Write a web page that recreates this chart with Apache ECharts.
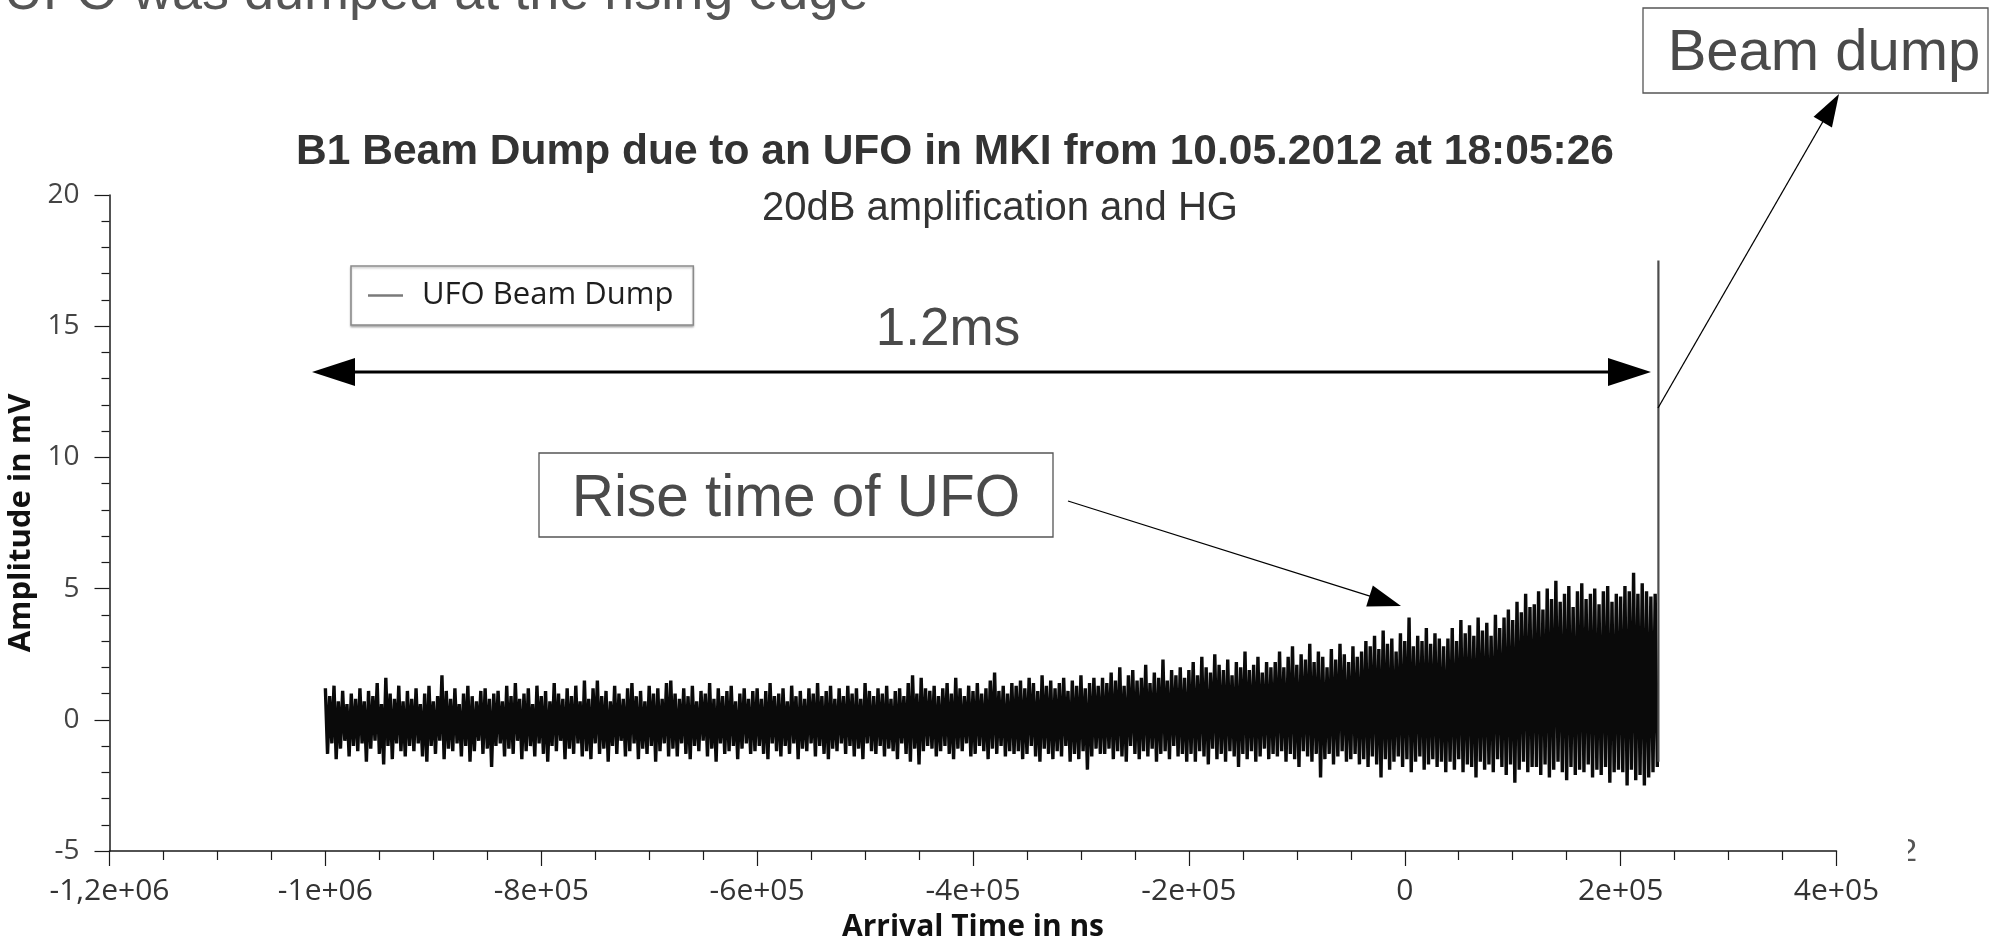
<!DOCTYPE html>
<html>
<head>
<meta charset="utf-8">
<title>B1 Beam Dump due to an UFO in MKI</title>
<script src="https://cdn.jsdelivr.net/npm/echarts@6/dist/echarts.min.js"></script>
<style>
  html, body { margin: 0; padding: 0; background: #ffffff; }
  #chart { width: 1997px; height: 938px; }
</style>
</head>
<body>
<div id="chart"></div>
<script>
// BLM trace: successive maxima / minima of the sampled signal (mV)
const traceStart = -1000000;   // ns, first sample
const traceStep = 2000;        // ns between successive extrema

const peaks = [
  // -1000k .. -920k
  1.2, 0.9, 1.3, 0.7, 1.1, 0.6, 1.0, 0.8, 1.2, 0.7,
  1.1, 0.9, 1.4, 0.6, 1.6, 1.0, 0.8, 1.3, 0.7, 1.1,
  // -920k .. -840k
  0.8, 1.2, 0.6, 1.0, 1.3, 0.7, 0.9, 1.7, 1.1, 0.8,
  1.2, 0.6, 1.0, 1.3, 0.9, 0.7, 1.1, 1.2, 0.8, 1.0,
  // -840k .. -760k
  1.1, 0.7, 1.3, 0.9, 1.4, 0.8, 1.0, 1.2, 0.6, 1.3,
  0.9, 1.1, 0.7, 1.4, 1.0, 0.8, 1.2, 0.9, 1.3, 0.7,
  // -760k .. -680k
  1.5, 0.8, 1.2, 1.5, 0.9, 1.1, 0.7, 1.3, 1.0, 0.8,
  1.2, 1.4, 0.9, 1.1, 0.7, 1.3, 1.0, 1.2, 0.8, 1.4,
  // -680k .. -600k
  1.5, 1.0, 0.8, 1.2, 0.9, 1.3, 0.7, 1.1, 1.0, 1.4,
  0.8, 1.2, 0.9, 1.1, 1.3, 0.7, 1.0, 1.2, 0.8, 1.1,
  // -600k .. -520k
  1.2, 0.8, 1.1, 1.4, 0.9, 1.0, 1.2, 0.7, 1.3, 0.9,
  1.1, 0.8, 1.2, 1.0, 1.4, 0.9, 1.1, 1.3, 0.8, 1.2,
  // -520k .. -440k
  0.9, 1.3, 1.0, 1.2, 0.8, 1.4, 1.1, 0.9, 1.2, 1.0,
  1.3, 0.8, 1.1, 1.2, 0.9, 1.4, 1.7, 1.0, 1.6, 1.2,
  // -440k .. -360k
  1.1, 1.3, 0.9, 1.2, 1.4, 1.0, 1.6, 1.2, 0.9, 1.3,
  1.1, 1.4, 1.0, 1.2, 1.5, 1.8, 1.1, 1.3, 1.0, 1.4,
  // -360k .. -280k
  1.3, 1.5, 1.2, 1.6, 1.4, 1.1, 1.7, 1.3, 1.5, 1.2,
  1.4, 1.6, 1.1, 1.5, 1.3, 1.7, 1.2, 1.4, 1.6, 1.3,
  // -280k .. -200k
  1.6, 1.4, 1.8, 1.5, 2.0, 1.3, 1.7, 1.9, 1.5, 1.6,
  2.1, 1.4, 1.8, 1.6, 2.3, 1.5, 1.9, 1.7, 2.0, 1.6,
  // -200k .. -120k
  1.9, 2.2, 1.7, 2.4, 2.0, 1.8, 2.5, 2.1, 1.9, 2.3,
  1.7, 2.2, 2.0, 2.6, 1.9, 2.1, 2.4, 1.8, 2.2, 2.0,
  // -120k .. -40k
  2.2, 2.6, 2.0, 2.4, 2.8, 2.1, 2.5, 2.3, 2.9, 2.2,
  2.6, 2.4, 2.0, 2.7, 2.3, 2.9, 2.5, 2.2, 2.8, 2.4,
  // -40k .. 40k
  2.6, 3.0, 2.8, 3.2, 2.7, 3.4, 2.9, 3.1, 2.6, 3.3,
  3.0, 3.9, 2.8, 3.2, 3.0, 3.5, 2.9, 3.3, 3.1, 2.8,
  // 40k .. 120k
  3.1, 3.5, 3.0, 3.8, 3.3, 3.6, 3.2, 3.9, 3.4, 3.7,
  3.2, 4.0, 3.5, 3.9, 4.2, 3.8, 4.5, 4.1, 4.8, 4.3,
  // 120k .. 200k
  4.4, 4.9, 4.2, 5.0, 4.6, 5.3, 4.5, 4.8, 5.1, 4.3,
  4.9, 5.2, 4.6, 4.8, 5.0, 4.4, 4.9, 5.1, 4.5, 4.8,
  // 200k .. 232k
  4.7, 5.1, 4.9, 5.6, 4.8, 5.2, 4.9, 4.7, 4.8
];

const troughs = [
  // -1000k .. -920k
  -1.3, -0.9, -1.5, -1.1, -0.8, -1.4, -1.0, -1.2, -0.9, -1.6,
  -1.1, -0.8, -1.3, -1.7, -1.0, -1.5, -0.9, -1.2, -1.4, -1.0,
  // -920k .. -840k
  -1.2, -0.9, -1.4, -1.6, -1.0, -1.3, -0.8, -1.5, -1.1, -1.2,
  -0.9, -1.4, -1.0, -1.6, -1.2, -0.8, -1.3, -1.1, -1.8, -1.0,
  // -840k .. -760k
  -0.9, -1.4, -1.1, -1.3, -0.8, -1.5, -1.2, -1.0, -1.4, -0.9,
  -1.3, -1.6, -1.0, -1.2, -0.8, -1.5, -1.1, -1.3, -0.9, -1.4,
  // -760k .. -680k
  -1.2, -1.5, -0.9, -1.3, -1.1, -1.6, -1.0, -1.3, -0.8, -1.4,
  -1.2, -0.9, -1.5, -1.1, -1.3, -1.0, -1.6, -1.2, -0.9, -1.4,
  // -680k .. -600k
  -1.1, -1.4, -0.9, -1.3, -1.5, -1.0, -1.2, -0.8, -1.4, -1.1,
  -1.6, -0.9, -1.3, -1.2, -1.0, -1.5, -1.1, -0.9, -1.3, -1.2,
  // -600k .. -520k
  -1.0, -1.3, -1.5, -0.9, -1.2, -1.4, -1.0, -1.3, -0.9, -1.5,
  -1.1, -1.2, -0.9, -1.4, -1.0, -1.3, -1.5, -1.1, -1.2, -0.9,
  // -520k .. -440k
  -1.3, -1.0, -1.4, -1.1, -1.5, -0.9, -1.2, -1.3, -1.0, -1.4,
  -1.1, -1.2, -1.5, -0.9, -1.3, -1.6, -1.1, -1.7, -1.2, -1.0,
  // -440k .. -360k
  -1.1, -1.4, -1.2, -1.0, -1.3, -1.5, -1.1, -1.2, -0.9, -1.4,
  -1.3, -1.0, -1.2, -1.5, -1.1, -1.3, -1.0, -1.4, -1.2, -1.3,
  // -360k .. -280k
  -1.2, -1.5, -1.3, -1.0, -1.4, -1.6, -1.1, -1.3, -1.5, -1.2,
  -1.4, -1.0, -1.6, -1.3, -1.5, -1.2, -1.9, -1.4, -1.1, -1.3,
  // -280k .. -200k
  -1.3, -1.1, -1.5, -1.2, -1.4, -1.6, -1.0, -1.3, -1.5, -1.2,
  -1.4, -1.1, -1.6, -1.3, -1.2, -1.5, -1.0, -1.4, -1.3, -1.6,
  // -200k .. -120k
  -1.3, -1.6, -1.2, -1.4, -1.7, -1.1, -1.5, -1.3, -1.6, -1.2,
  -1.4, -1.8, -1.3, -1.5, -1.2, -1.6, -1.4, -1.1, -1.5, -1.3,
  // -120k .. -40k
  -1.4, -1.2, -1.6, -1.3, -1.5, -1.8, -1.2, -1.4, -1.6, -1.3,
  -2.2, -1.5, -1.3, -1.7, -1.4, -1.2, -1.6, -1.5, -1.3, -1.7,
  // -40k .. 40k
  -1.5, -1.8, -1.4, -1.7, -2.2, -1.5, -1.9, -1.6, -1.4, -1.8,
  -1.5, -2.0, -1.6, -1.4, -1.9, -1.7, -1.5, -1.8, -1.6, -2.0,
  // 40k .. 120k
  -1.6, -1.9, -1.5, -2.0, -1.7, -1.8, -2.2, -1.6, -1.9, -1.7,
  -2.0, -1.5, -1.8, -2.1, -1.7, -2.4, -1.9, -1.6, -2.0, -1.8,
  // 120k .. 200k
  -1.8, -2.1, -1.7, -2.2, -1.9, -1.6, -2.0, -2.3, -1.8, -2.1,
  -1.9, -2.0, -1.7, -2.2, -1.9, -2.1, -1.8, -2.4, -2.0, -1.9,
  // 200k .. 234k
  -2.0, -2.5, -1.9, -2.3, -2.1, -2.5, -2.2, -2.0, -1.8
];

// beam dump: single vertical excursion at the end of the trace
const dumpTime = 235000;          // ns
const dumpLevels = [-1.6, 17.5];  // mV

// axis ticks
const timeTicks = [-1200000, -1000000, -800000, -600000, -400000, -200000, 0, 200000, 400000];
const timeTickLabels = ['-1,2e+06', '-1e+06', '-8e+05', '-6e+05', '-4e+05', '-2e+05', '0', '2e+05', '4e+05'];
const ampTicks = [-5, 0, 5, 10, 15, 20];

const seriesName = 'UFO Beam Dump';

// interleave maxima and minima into one time-ordered trace
const trace = [];
const nPairs = Math.min(peaks.length, troughs.length);
for (let i = 0; i < nPairs; i++) {
  trace.push([traceStart + 2 * i * traceStep, peaks[i]]);
  trace.push([traceStart + (2 * i + 1) * traceStep, troughs[i]]);
}
const dumpTrace = dumpLevels.map(v => [dumpTime, v]);

function arrowHead(tip, tail, len, half) {
  const dx = tip[0] - tail[0], dy = tip[1] - tail[1];
  const d = Math.hypot(dx, dy), ux = dx / d, uy = dy / d;
  const bx = tip[0] - ux * len, by = tip[1] - uy * len;
  return [tip, [bx - uy * half, by + ux * half], [bx + uy * half, by - ux * half]];
}

const sansFont = '"Liberation Sans", Arial, sans-serif';
const axisFont = '"Open Sans", sans-serif';
const noteColor = '#4a4a4a';

// annotation geometry (page pixels)
const spanY = 372, spanL = 312, spanR = 1651;
const riseFrom = [1068, 501], riseTip = [1401, 606];
const dumpFrom = [1658, 408], dumpTip = [1839, 94];

const chart = echarts.init(document.getElementById('chart'), null, { renderer: 'canvas' });

chart.setOption({
  animation: false,
  backgroundColor: '#ffffff',
  grid: { left: 109.5, right: 160.5, top: 195, bottom: 87, outerBoundsMode: 'none' },
  legend: {
    data: [seriesName],
    left: 351, top: 266,
    orient: 'vertical',
    padding: [14, 20, 14, 17],
    backgroundColor: '#ffffff',
    borderColor: '#8a8a8a', borderWidth: 1.5, borderRadius: 0,
    shadowColor: 'rgba(0,0,0,0.25)', shadowBlur: 2, shadowOffsetY: 1.5,
    icon: 'rect', itemWidth: 35, itemHeight: 2.5,
    itemStyle: { color: '#7a7a7a' },
    textStyle: { fontFamily: axisFont, fontSize: 31, color: '#1e1e1e', padding: [0, 0, 0, 14] },
    selectedMode: false
  },
  xAxis: {
    type: 'value',
    min: timeTicks[0], max: timeTicks[timeTicks.length - 1], interval: 200000,
    name: 'Arrival Time in ns', nameLocation: 'middle', nameGap: 61,
    nameTextStyle: { fontFamily: axisFont, fontWeight: 'bold', fontSize: 30, color: '#111' },
    axisLine: { show: true, onZero: false, lineStyle: { color: '#1a1a1a', width: 1.5 } },
    axisTick: { show: true, length: 15, lineStyle: { color: '#1a1a1a', width: 1.2 } },
    minorTick: { show: true, splitNumber: 4, length: 9, lineStyle: { color: '#1a1a1a', width: 1.2 } },
    splitLine: { show: false },
    axisLabel: {
      margin: 25, fontFamily: axisFont, fontSize: 30, color: '#333',
      formatter: v => { const k = timeTicks.indexOf(v); return k >= 0 ? timeTickLabels[k] : ''; }
    }
  },
  yAxis: {
    type: 'value',
    min: ampTicks[0], max: ampTicks[ampTicks.length - 1], interval: 5,
    name: 'Amplitude in mV', nameLocation: 'middle', nameGap: 59, nameRotate: 90,
    nameTextStyle: { fontFamily: axisFont, fontWeight: 'bold', fontSize: 31, color: '#111' },
    axisLine: { show: true, onZero: false, lineStyle: { color: '#1a1a1a', width: 1.5 } },
    axisTick: { show: true, length: 15, lineStyle: { color: '#1a1a1a', width: 1.2 } },
    minorTick: { show: true, splitNumber: 5, length: 8, lineStyle: { color: '#1a1a1a', width: 1.2 } },
    splitLine: { show: false },
    axisLabel: { margin: 30, fontFamily: axisFont, fontSize: 28, color: '#444' }
  },
  series: [
    {
      name: seriesName, type: 'line', data: trace,
      showSymbol: false, symbol: 'none',
      lineStyle: { color: '#0a0a0a', width: 3.4, join: 'bevel' },
      itemStyle: { color: '#7a7a7a' },
      z: 3
    },
    {
      name: seriesName, type: 'line', data: dumpTrace,
      showSymbol: false, symbol: 'none',
      lineStyle: { color: '#4d4d4d', width: 2.2 },
      itemStyle: { color: '#7a7a7a' },
      z: 3
    }
  ],
  graphic: [
    // slide heading, mostly above the page
    { type: 'text', x: 4, y: -6, z: 50,
      style: { text: 'UFO was dumped at the rising edge', font: '54px ' + sansFont, fill: '#555', align: 'left', verticalAlign: 'middle' } },
    // chart title and subtitle
    { type: 'text', x: 955, y: 152.5, z: 50,
      style: { text: 'B1 Beam Dump due to an UFO in MKI from 10.05.2012 at 18:05:26', font: 'bold 42.5px ' + sansFont, fill: '#333', align: 'center', verticalAlign: 'middle' } },
    { type: 'text', x: 1000, y: 208.5, z: 50,
      style: { text: '20dB amplification and HG', font: '40px ' + sansFont, fill: '#333', align: 'center', verticalAlign: 'middle' } },
    // 1.2 ms span
    { type: 'text', x: 948, y: 330, z: 50,
      style: { text: '1.2ms', font: '53px ' + sansFont, fill: noteColor, align: 'center', verticalAlign: 'middle' } },
    { type: 'line', z: 50, shape: { x1: spanL + 30, y1: spanY, x2: spanR - 30, y2: spanY },
      style: { stroke: '#000', lineWidth: 3 } },
    { type: 'polygon', z: 50, shape: { points: arrowHead([spanL, spanY], [spanR, spanY], 43, 14) }, style: { fill: '#000' } },
    { type: 'polygon', z: 50, shape: { points: arrowHead([spanR, spanY], [spanL, spanY], 43, 14) }, style: { fill: '#000' } },
    // rise time note
    { type: 'rect', z: 50, shape: { x: 539, y: 453, width: 514, height: 84 },
      style: { fill: '#fff', stroke: '#555', lineWidth: 1.3 } },
    { type: 'text', x: 796, y: 499.5, z: 51,
      style: { text: 'Rise time of UFO', font: '58.5px ' + sansFont, fill: noteColor, align: 'center', verticalAlign: 'middle' } },
    { type: 'line', z: 50, shape: { x1: riseFrom[0], y1: riseFrom[1], x2: riseTip[0] - 20, y2: riseTip[1] - 6.3 },
      style: { stroke: '#000', lineWidth: 1.3 } },
    { type: 'polygon', z: 50, shape: { points: arrowHead(riseTip, riseFrom, 33, 11) }, style: { fill: '#000' } },
    // beam dump note
    { type: 'rect', z: 50, shape: { x: 1643, y: 8, width: 345, height: 85 },
      style: { fill: '#fff', stroke: '#555', lineWidth: 1.3 } },
    { type: 'text', x: 1824, y: 54, z: 51,
      style: { text: 'Beam dump', font: '58px ' + sansFont, fill: noteColor, align: 'center', verticalAlign: 'middle' } },
    { type: 'line', z: 50, shape: { x1: dumpFrom[0], y1: dumpFrom[1], x2: dumpTip[0] - 10, y2: dumpTip[1] + 17 },
      style: { stroke: '#000', lineWidth: 1.3 } },
    { type: 'polygon', z: 50, shape: { points: arrowHead(dumpTip, dumpFrom, 32.5, 10.6) }, style: { fill: '#000' } },
    // page number peeking out from behind the plot
    { type: 'text', x: 1917, y: 852, z: 50,
      style: { text: '2', font: '32px ' + sansFont, fill: '#555', align: 'right', verticalAlign: 'middle' } },
    { type: 'rect', z: 52, shape: { x: 1870, y: 820, width: 38, height: 64 }, style: { fill: '#ffffff' } }
  ]
});
</script>
</body>
</html>
